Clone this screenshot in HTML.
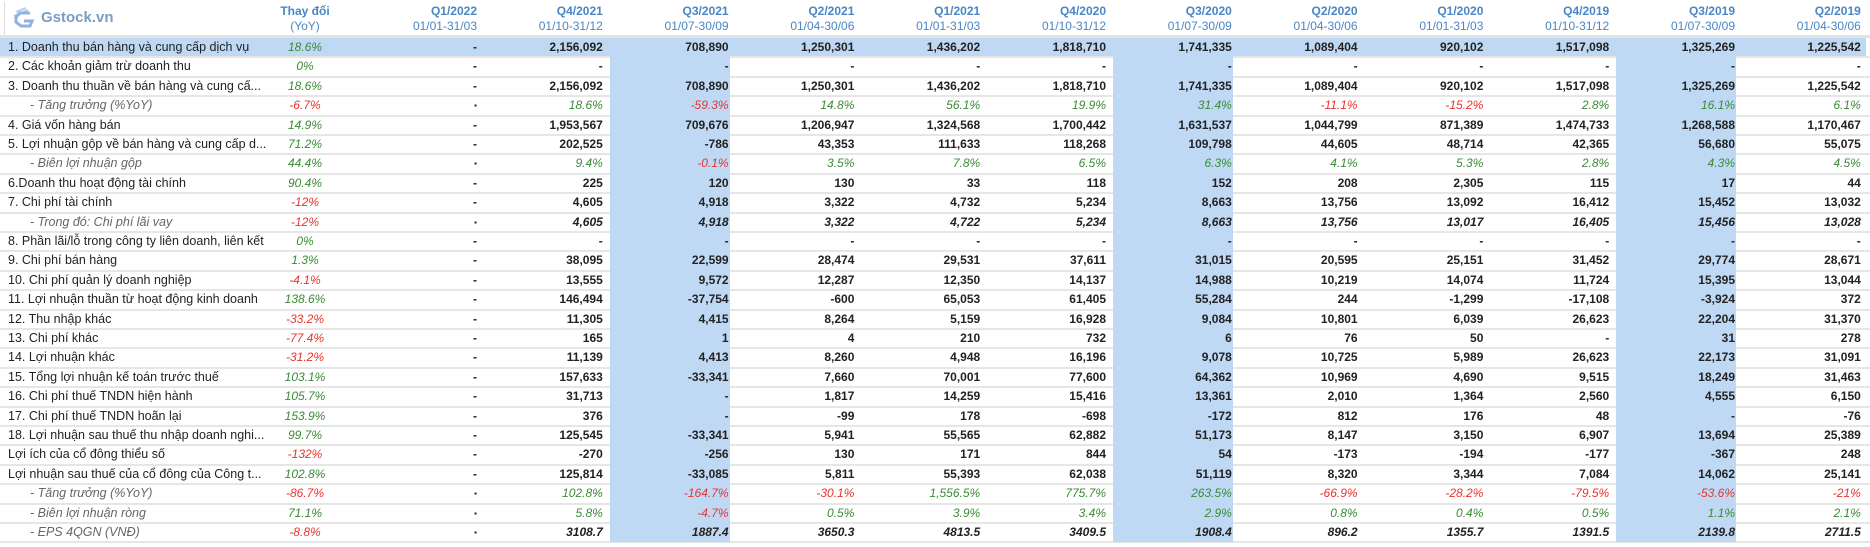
<!DOCTYPE html>
<html><head><meta charset="utf-8">
<style>
html,body{margin:0;padding:0;background:#fff;}
body{width:1870px;height:547px;position:relative;overflow:hidden;font-family:"Liberation Sans",Arial,sans-serif;font-size:12px;color:#222;}
.a{position:absolute;white-space:nowrap;}
.hl{position:absolute;background:#bfd9f5;}
.line{position:absolute;left:0;width:1870px;height:2px;background:#e6e6e6;}
.num{font-weight:bold;text-align:right;font-size:12px;}
.pct{font-style:italic;text-align:right;font-size:12px;}
.g{color:#3a8a35;} .r{color:#e8332f;}
.hq{color:#4a86c5;font-weight:bold;text-align:right;font-size:12px;}
.hd{color:#4a86c5;text-align:right;font-size:12px;}
</style></head>
<body>
<div class="a" style="left:0;top:0;width:200px;height:35px;">
  <div class="a" style="left:4px;top:2px;width:1px;height:33px;background:#ddd;"></div>
  <svg class="a" style="left:12px;top:6px" width="24" height="24" viewBox="0 0 24 24">
    <path d="M4 6 L14 2 M2 10 L16 4" stroke="#b5cde8" stroke-width="2"/>
    <path d="M18 7 L8 7 L4 11 L4 16 L9 20 L18 20 L20 15 L12 15" fill="none" stroke="#8fb3dc" stroke-width="3"/>
  </svg>
  <div class="a" style="left:41px;top:9px;font-size:15px;font-weight:bold;color:#7a9cc6;">Gstock.vn</div>
</div>
<div class="a" style="left:0;top:35px;width:1870px;height:3px;background:#e3e3e3;"></div>
<div id="tbl"></div>
<script>
const quarters = ["Q1/2022","Q4/2021","Q3/2021","Q2/2021","Q1/2021","Q4/2020","Q3/2020","Q2/2020","Q1/2020","Q4/2019","Q3/2019","Q2/2019"];
const periods = ["01/01-31/03","01/10-31/12","01/07-30/09","01/04-30/06","01/01-31/03","01/10-31/12","01/07-30/09","01/04-30/06","01/01-31/03","01/10-31/12","01/07-30/09","01/04-30/06"];
const highlightCols = [2,6,10];
const labels = ["1. Doanh thu bán hàng và cung cấp dịch vụ","2. Các khoản giảm trừ doanh thu","3. Doanh thu thuần về bán hàng và cung cấ...","- Tăng trưởng (%YoY)","4. Giá vốn hàng bán","5. Lợi nhuận gộp về bán hàng và cung cấp d...","- Biên lợi nhuận gộp","6.Doanh thu hoạt động tài chính","7. Chi phí tài chính","- Trong đó: Chi phí lãi vay","8. Phần lãi/lỗ trong công ty liên doanh, liên kết","9. Chi phí bán hàng","10. Chi phí quản lý doanh nghiệp","11. Lợi nhuận thuần từ hoạt động kinh doanh","12. Thu nhập khác","13. Chi phí khác","14. Lợi nhuận khác","15. Tổng lợi nhuận kế toán trước thuế","16. Chi phí thuế TNDN hiện hành","17. Chi phí thuế TNDN hoãn lại","18. Lợi nhuận sau thuế thu nhập doanh nghi...","Lợi ích của cổ đông thiểu số","Lợi nhuận sau thuế của cổ đông của Công t...","- Tăng trưởng (%YoY)","- Biên lợi nhuận ròng","- EPS 4QGN (VNĐ)"];
const subRows = [3,6,9,23,24,25];
const changes = ["18.6%","0%","18.6%","-6.7%","14.9%","71.2%","44.4%","90.4%","-12%","-12%","0%","1.3%","-4.1%","138.6%","-33.2%","-77.4%","-31.2%","103.1%","105.7%","153.9%","99.7%","-132%","102.8%","-86.7%","71.1%","-8.8%"];
const values = [
["-","2,156,092","708,890","1,250,301","1,436,202","1,818,710","1,741,335","1,089,404","920,102","1,517,098","1,325,269","1,225,542"],
["-","-","-","-","-","-","-","-","-","-","-","-"],
["-","2,156,092","708,890","1,250,301","1,436,202","1,818,710","1,741,335","1,089,404","920,102","1,517,098","1,325,269","1,225,542"],
["-","18.6%","-59.3%","14.8%","56.1%","19.9%","31.4%","-11.1%","-15.2%","2.8%","16.1%","6.1%"],
["-","1,953,567","709,676","1,206,947","1,324,568","1,700,442","1,631,537","1,044,799","871,389","1,474,733","1,268,588","1,170,467"],
["-","202,525","-786","43,353","111,633","118,268","109,798","44,605","48,714","42,365","56,680","55,075"],
["-","9.4%","-0.1%","3.5%","7.8%","6.5%","6.3%","4.1%","5.3%","2.8%","4.3%","4.5%"],
["-","225","120","130","33","118","152","208","2,305","115","17","44"],
["-","4,605","4,918","3,322","4,732","5,234","8,663","13,756","13,092","16,412","15,452","13,032"],
["-","4,605","4,918","3,322","4,722","5,234","8,663","13,756","13,017","16,405","15,456","13,028"],
["-","-","-","-","-","-","-","-","-","-","-","-"],
["-","38,095","22,599","28,474","29,531","37,611","31,015","20,595","25,151","31,452","29,774","28,671"],
["-","13,555","9,572","12,287","12,350","14,137","14,988","10,219","14,074","11,724","15,395","13,044"],
["-","146,494","-37,754","-600","65,053","61,405","55,284","244","-1,299","-17,108","-3,924","372"],
["-","11,305","4,415","8,264","5,159","16,928","9,084","10,801","6,039","26,623","22,204","31,370"],
["-","165","1","4","210","732","6","76","50","-","31","278"],
["-","11,139","4,413","8,260","4,948","16,196","9,078","10,725","5,989","26,623","22,173","31,091"],
["-","157,633","-33,341","7,660","70,001","77,600","64,362","10,969","4,690","9,515","18,249","31,463"],
["-","31,713","-","1,817","14,259","15,416","13,361","2,010","1,364","2,560","4,555","6,150"],
["-","376","-","-99","178","-698","-172","812","176","48","-","-76"],
["-","125,545","-33,341","5,941","55,565","62,882","51,173","8,147","3,150","6,907","13,694","25,389"],
["-","-270","-256","130","171","844","54","-173","-194","-177","-367","248"],
["-","125,814","-33,085","5,811","55,393","62,038","51,119","8,320","3,344","7,084","14,062","25,141"],
["-","102.8%","-164.7%","-30.1%","1,556.5%","775.7%","263.5%","-66.9%","-28.2%","-79.5%","-53.6%","-21%"],
["-","5.8%","-4.7%","0.5%","3.9%","3.4%","2.9%","0.8%","0.4%","0.5%","1.1%","2.1%"],
["-","3108.7","1887.4","3650.3","4813.5","3409.5","1908.4","896.2","1355.7","1391.5","2139.8","2711.5"]
];

const ROW0 = 38, RH = 19.4, COLR = 481, PITCH = 125.8;
const root = document.getElementById('tbl');
function colRight(k){ return COLR + PITCH*k; }
function rowTop(i){ return ROW0 + RH*i; }
function div(cls, style, text){
  const d = document.createElement('div');
  d.className = cls;
  d.setAttribute('style', style);
  if (text !== undefined) d.textContent = text;
  root.appendChild(d);
  return d;
}
const nRows = labels.length;
const bottom = rowTop(nRows);

const r1 = div('hl', `left:0;top:${rowTop(0)}px;width:1866px;height:${RH}px;`);



for (let i = 1; i <= nRows; i++) {
  const l = div('line', `top:${rowTop(i)-1}px;`);
  
  
}
highlightCols.forEach(k => {
  const h = div('hl', `left:${colRight(k-1)+3}px;top:${ROW0}px;width:${PITCH-6}px;height:${bottom-ROW0}px;`);
  
  
});

const th1 = div('a', `left:255px;width:100px;top:4px;text-align:center;color:#4a86c5;font-weight:bold;font-size:12px;`, 'Thay đổi');


const th2 = div('a', `left:255px;width:100px;top:19px;text-align:center;color:#4a86c5;font-size:12px;`, '(YoY)');


quarters.forEach((q, k) => {
  const r = colRight(k) - 4;
  const a = div('a hq', `left:${r-110}px;width:110px;top:4px;`, q);
  
  
  const b = div('a hd', `left:${r-110}px;width:110px;top:19px;`, periods[k]);
  
  
});

function colorOf(s){ return s.trim().startsWith('-') && s.trim() !== '-' ? 'r' : 'g'; }

labels.forEach((lab, i) => {
  const t = rowTop(i);
  const sub = subRows.includes(i);
  const isPct = sub && i !== 9 && i !== 25;
  const lst = sub ? `left:30px;font-style:italic;color:#666;` : `left:8px;color:#222;`;
  const L = div('a', `${lst}font-size:12.5px;top:${t}px;line-height:${RH}px;`, lab);
  
  
  const c = changes[i];
  const C = div('a pct ' + colorOf(c), `left:255px;width:100px;text-align:center;top:${t}px;line-height:${RH}px;`, c);
  
  
  values[i].forEach((v, k) => {
    const r = colRight(k) - 4;
    let cls = 'a num';
    let txt = v;
    let extra = '';
    if (sub && v === '-') { txt = '▪'; extra = 'font-size:8px;'; }
    else if (isPct) { cls = 'a pct ' + colorOf(v); }
    else if (sub) { cls = 'a num'; extra = 'font-style:italic;'; }
    const V = div(cls, `left:${r-120}px;width:120px;text-align:right;top:${t}px;line-height:${RH}px;${extra}`, txt);
    
    
  });
});
</script>
</body></html>
